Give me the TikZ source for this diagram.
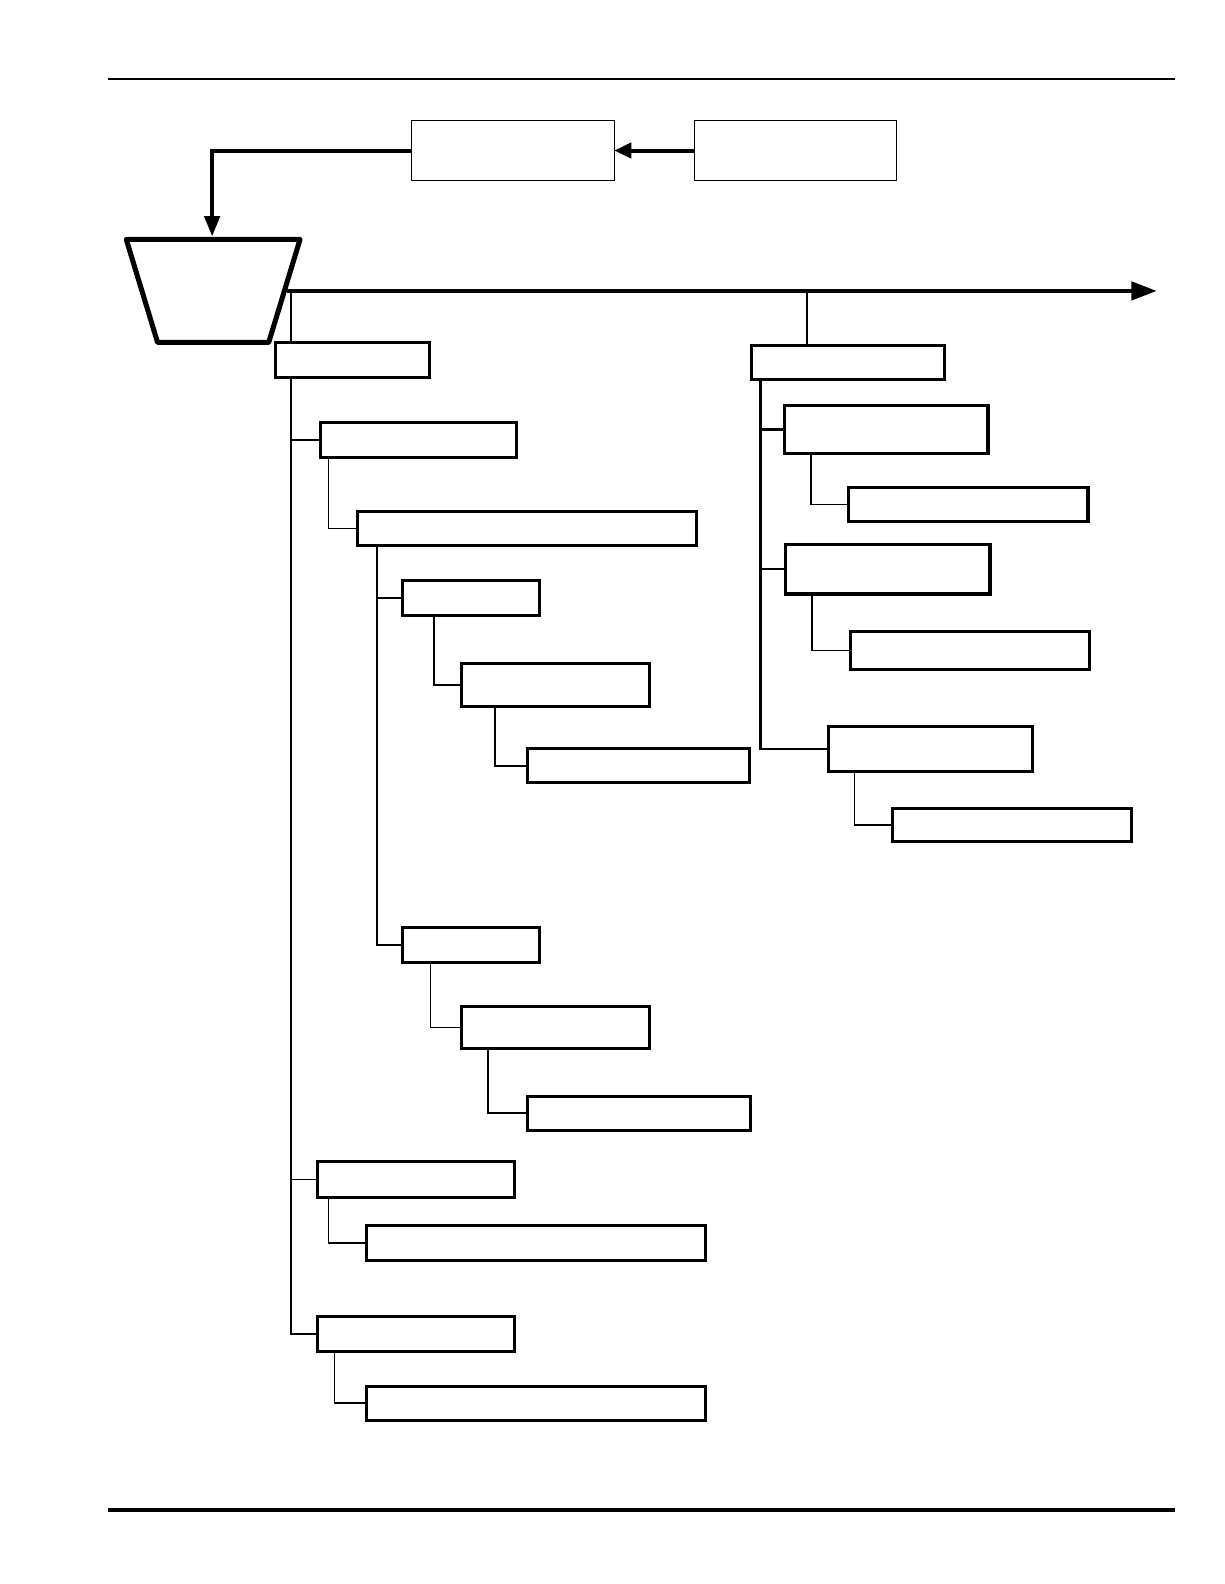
\documentclass[tikz,border=0pt]{standalone}
\usepackage{tikz}
\usetikzlibrary{positioning}
\usetikzlibrary{arrows.meta}

\begin{document}
\begin{tikzpicture}[x=1pt, y=-1pt,
    box/.style={draw, fill=white, line width=3pt, inner sep=0pt, outer sep=0pt, anchor=north west},
    thinbox/.style={draw, fill=white, line width=0.9pt, inner sep=0pt, outer sep=0pt, anchor=north west},
    link/.style={line width=1.5pt},
    trunk/.style={line width=2.4pt},
    feed/.style={line width=4pt, -{Triangle[length=17pt, width=15pt]}}]
    \useasboundingbox (0, 0) rectangle (1212, 1568);

    % Page rules
    \draw[line width=1.6pt] (107, 78) -- (1163, 78);
    \draw[line width=4pt] (107, 1495) -- (1163, 1495);

    % Top boxes
    \node[thinbox, minimum width=201pt, minimum height=60pt] (src) at (407, 119) {};
    \node[thinbox, minimum width=200pt, minimum height=60pt] (feeder) at (687, 119) {};

    % Hopper
    \draw[line width=5pt, line join=round, fill=white]
        (125, 237) -- (297, 237) -- (266, 339) -- (156, 339) -- cycle;
    \coordinate (hopin) at (210, 234);
    \coordinate (hopout) at (284, 288);

    \draw[feed] (feeder.west) -- (src.east);
    \draw[feed, -{Triangle[length=20pt, width=15pt]}] (src.west) -| (hopin);

    % Main line
    \coordinate (tip) at (1145, 288);
    \draw[line width=4pt, -{Triangle[length=25pt, width=18pt]}] (hopout) -- (tip);

    % Boxes
    \foreach \name/\x/\y/\w/\h in {
        L0/273/339/152/35, L1/317/418/194/35, L1a/354/506/335/34,
        L2/398/575/136/34, L3/457/657/186/42, L4/522/741/220/34,
        L2b/398/918/136/35, L3b/457/996/186/42, L4b/522/1085/221/34,
        L5/314/1150/195/35, L5a/363/1213/335/35,
        L6/314/1303/195/35, L6a/363/1372/335/34,
        R0/744/342/191/34, R1/777/401/201/48, R1a/840/483/237/33,
        R2/778/539/202/49, R2a/842/625/236/38,
        R3/820/719/202/45, R3a/883/800/237/33} {
        \node[box, minimum width=\w pt, minimum height=\h pt] (\name) at (\x, \y) {};
    }

    % Left branch
    \coordinate (ltop) at (288, 288);
    \draw[link] (ltop) -- (ltop |- L0.north);
    \draw[link] (ltop |- L0.south) |- (L6.west);
    \foreach \n in {L1, L5} {
        \draw[link] (\n.west) -- (\n.west -| ltop);
    }
    \draw[link] ([xshift=8pt]L1.south west) |- (L1a.west);
    \draw[link] ([xshift=19pt]L1a.south west) coordinate (mtop) |- (L2b.west);
    \draw[link] (L2.west) -- (L2.west -| mtop);
    \draw[link, line width=2pt] ([xshift=32pt]L2.south west) |- (L3.west);
    \draw[link] ([xshift=33pt]L3.south west) |- (L4.west);
    \draw[link] ([xshift=28pt]L2b.south west) |- (L3b.west);
    \draw[link, line width=2pt] ([xshift=26pt]L3b.south west) |- (L4b.west);
    \draw[link] ([xshift=11pt]L5.south west) |- (L5a.west);
    \draw[link] ([xshift=17pt]L6.south west) |- (L6a.west);

    % Right branch
    \coordinate (rstub) at (799, 288);
    \draw[link] (rstub) -- (rstub |- R0.north);
    \draw[trunk] ([xshift=9pt]R0.south west) coordinate (rtop) |- (R3.west);
    \foreach \n in {R1, R2} {
        \draw[trunk] (\n.west) -- (\n.west -| rtop);
    }
    \draw[link] ([xshift=26pt]R1.south west) |- (R1a.west);
    \draw[link] ([xshift=26pt]R2.south west) |- (R2a.west);
    \draw[link] ([xshift=26pt]R3.south west) |- (R3a.west);
\end{tikzpicture}
\end{document}
